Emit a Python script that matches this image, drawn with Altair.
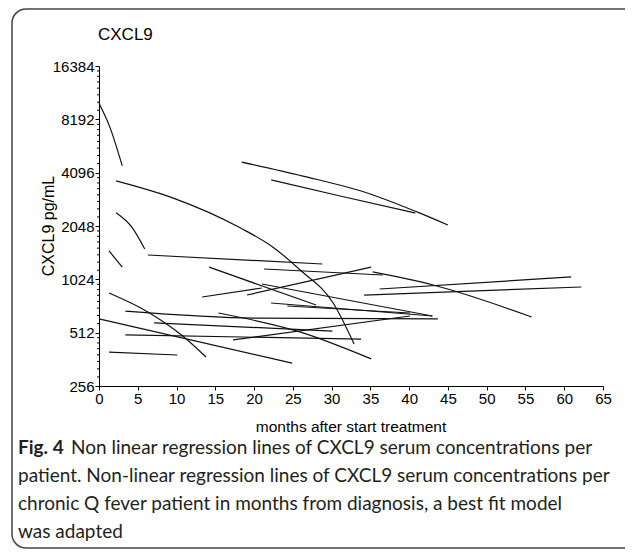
import altair as alt
import pandas as pd

# ---- data (months after start treatment, CXCL9 pg/mL) ----
p01_m = [0.0, 1.4, 3.0];                      p01_v = [10100, 7400, 4470]
p02_m = [2.2, 9.5, 18.2, 22.4, 25.9, 30.2, 32.9]; p02_v = [3680, 2950, 2000, 1560, 1160, 753, 442]
p03_m = [2.2, 4.3, 5.9];                      p03_v = [2430, 2000, 1520]
p04_m = [1.3, 3.0];                           p04_v = [1480, 1200]
p05_m = [6.3, 28.8];                          p05_v = [1405, 1250]
p06_m = [14.2, 28.0];                         p06_v = [1200, 733]
p07_m = [21.3, 36.6];                         p07_v = [1171, 1083]
p08_m = [35.3, 43.1, 55.8];                   p08_v = [1127, 951, 628]
p09_m = [13.3, 21.0];                         p09_v = [814, 915]
p10_m = [19.1, 35.1];                         p10_v = [835, 1200]
p11_m = [1.3, 6.3, 10.8, 13.8];               p11_v = [857, 670, 490, 373]
p12_m = [18.4, 26.3, 34.6, 41.0, 45.0];       p12_v = [4700, 3920, 3145, 2460, 2075]
p13_m = [22.2, 31.1, 40.8];                   p13_v = [3725, 3026, 2425]
p14_m = [3.4, 20.1, 43.7];                    p14_v = [678, 619, 612]
p15_m = [7.1, 30.1];                          p15_v = [581, 523]
p16_m = [0.0, 24.9];                          p16_v = [612, 345]
p17_m = [3.4, 33.8];                          p17_v = [497, 471]
p18_m = [1.3, 10.1];                          p18_v = [398, 383]
p19_m = [15.4, 25.9, 35.1];                   p19_v = [661, 517, 364]
p20_m = [17.3, 40.1];                         p20_v = [466, 636]
p21_m = [22.2, 43.0];                         p21_v = [753, 636]
p22_m = [24.3, 40.1];                         p22_v = [724, 661]
p23_m = [21.0, 43.0];                         p23_v = [964, 636]
p24_m = [36.2, 60.9];                         p24_v = [903, 1056]
p25_m = [34.2, 62.2];                         p25_v = [835, 927]

x_ticks = [0, 5, 10, 15, 20, 25, 30, 35, 40, 45, 50, 55, 60, 65]
y_ticks = [256, 512, 1024, 2048, 4096, 8192, 16384]
minor_steps = [1, 2, 3, 4, 5, 6, 7]  # linear minor ticks within each doubling

title_text = "CXCL9"
y_title = "CXCL9 pg/mL"
x_title = "months after start treatment"
fig_label = "Fig. 4"
caption_lines = [
    "Non linear regression lines of CXCL9 serum concentrations per",
    "patient. Non-linear regression lines of CXCL9 serum concentrations per",
    "chronic Q fever patient in months from diagnosis, a best fit model",
    "was adapted",
]

series = [
    (p01_m, p01_v), (p02_m, p02_v), (p03_m, p03_v), (p04_m, p04_v), (p05_m, p05_v),
    (p06_m, p06_v), (p07_m, p07_v), (p08_m, p08_v), (p09_m, p09_v), (p10_m, p10_v),
    (p11_m, p11_v), (p12_m, p12_v), (p13_m, p13_v), (p14_m, p14_v), (p15_m, p15_v),
    (p16_m, p16_v), (p17_m, p17_v), (p18_m, p18_v), (p19_m, p19_v), (p20_m, p20_v),
    (p21_m, p21_v), (p22_m, p22_v), (p23_m, p23_v), (p24_m, p24_v), (p25_m, p25_v),
]
rows = []
for i, (ms, vs) in enumerate(series):
    for m, v in zip(ms, vs):
        rows.append({"patient": f"P{i + 1:02d}", "months": m, "v": v})
df = pd.DataFrame(rows)

minor = pd.DataFrame({"v": [b + b * s / 8 for b in y_ticks[:-1] for s in minor_steps]})

FONT = "Liberation Sans"
CAP_FONT = "Lato"
xscale = alt.Scale(domain=[0, 65], nice=False, zero=False)
yscale = alt.Scale(type="log", base=2, domain=[256, 16384], nice=False)
xaxis = alt.Axis(values=x_ticks, title=None, grid=False, labelFlush=False, labelAngle=0,
                 labelFont=FONT, labelFontSize=15, labelColor="black", tickColor="black",
                 domainColor="black", tickSize=4, labelPadding=1)
yaxis = alt.Axis(values=y_ticks, format="d", title=None, grid=False, labelFlush=False,
                 labelFont=FONT, labelFontSize=15, labelColor="black", tickColor="black",
                 domainColor="black", tickSize=4, labelPadding=1)
yenc = alt.Y("v:Q", scale=yscale, axis=yaxis)

border = alt.Chart(pd.DataFrame({"a": [0]})).mark_rect(
    fillOpacity=0, stroke="#444444", strokeWidth=1.5, cornerRadius=14
).encode(x=alt.value(-87), x2=alt.value(570), y=alt.value(-57), y2=alt.value(482))

lines = alt.Chart(df).mark_line(color="#111111", strokeWidth=1.2, interpolate="monotone").encode(
    x=alt.X("months:Q", scale=xscale, axis=xaxis),
    y=yenc,
    detail="patient:N",
)

minor_ticks = alt.Chart(minor).mark_rule(color="black", strokeWidth=1).encode(
    y=yenc, x=alt.value(-2), x2=alt.value(0)
)

def label(text, x, y, size, **kw):
    return alt.Chart(pd.DataFrame({"t": [text]})).mark_text(
        font=kw.pop("font", FONT), fontSize=size, color=kw.pop("color", "black"), **kw
    ).encode(text="t:N", x=alt.value(x), y=alt.value(y))

texts = [
    label(title_text, -1, -31, 17, align="left", baseline="middle"),
    label(y_title, -50, 160, 16, align="center", baseline="middle", angle=270),
    label(x_title, 252, 361, 15.5, align="center", baseline="middle"),
    label(fig_label, -81, 382, 19, align="left", baseline="middle", font=CAP_FONT,
          fontWeight="bold", color="#231f20"),
]
cap_y = [382, 410, 438, 466]
cap_x = [-28, -81, -81, -81]
for t, yy, xx in zip(caption_lines, cap_y, cap_x):
    texts.append(label(t, xx, yy, 19, align="left", baseline="middle", font=CAP_FONT,
                       color="#231f20"))

chart = alt.layer(border, lines, minor_ticks, *texts).properties(
    width=504, height=320,
    padding={"left": 91, "top": 58, "right": 22, "bottom": 165},
    autosize=alt.AutoSizeParams(type="none"),
).configure_view(stroke=None)

chart.save("out.html", embed_options={"renderer": "svg", "actions": False})
